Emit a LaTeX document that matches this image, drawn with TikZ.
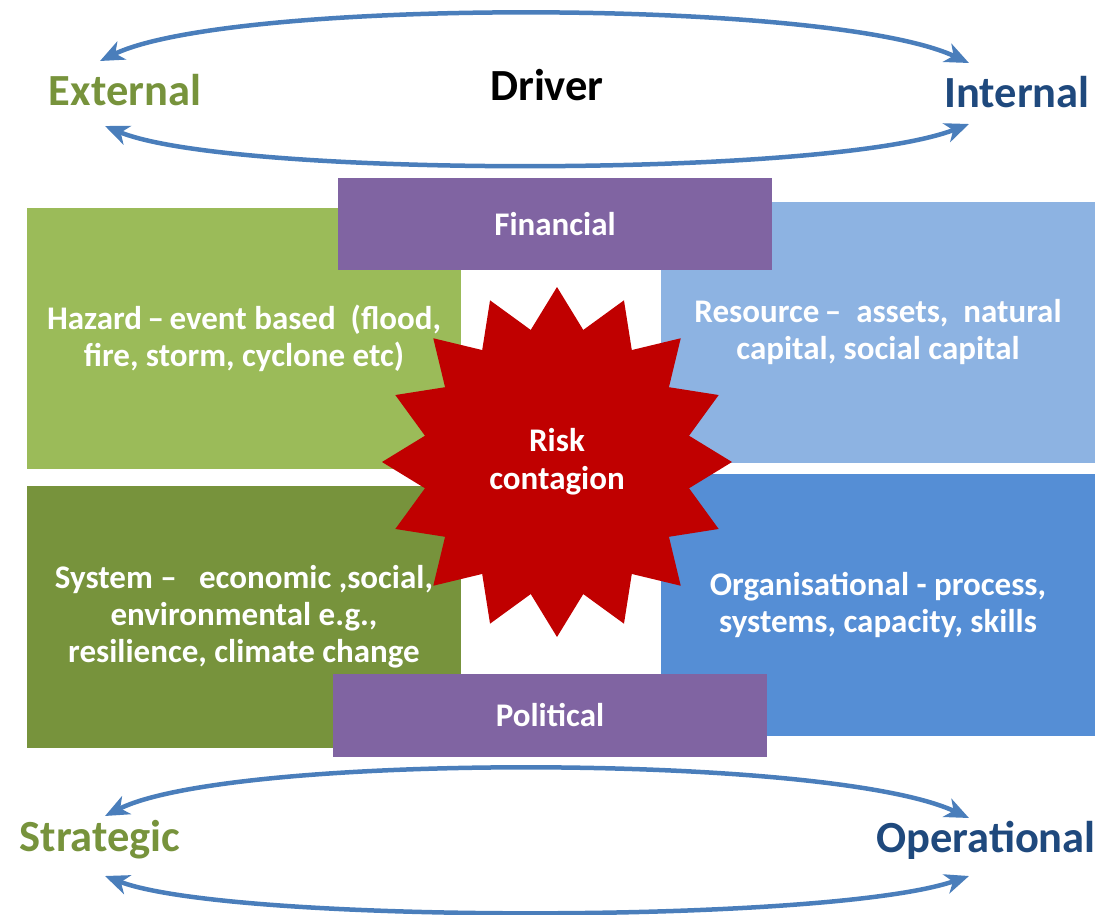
\documentclass[tikz,border=0pt]{standalone}
\usepackage{fontspec}
\setmainfont{Carlito}
\usetikzlibrary{arrows.meta, shapes.geometric}

\definecolor{hazardgreen}{HTML}{9BBB59}
\definecolor{systemgreen}{HTML}{77933C}
\definecolor{resourceblue}{HTML}{8DB3E2}
\definecolor{orgblue}{HTML}{558ED5}
\definecolor{barpurple}{HTML}{8064A2}
\definecolor{riskred}{HTML}{C00000}
\definecolor{swingblue}{HTML}{4A7EBB}
\definecolor{darkblue}{HTML}{1F497D}

\begin{document}
\begin{tikzpicture}[x=1pt, y=-1pt,
  box/.style={rectangle, minimum width=434pt, minimum height=261pt, inner sep=0pt,
    align=center, text=white, font=\fontsize{33}{37}\selectfont\bfseries},
  bar/.style={box, fill=barpurple},
  swing/.style={line width=4.5pt, draw=swingblue,
    {Stealth[length=24pt, width=20pt, inset=7pt]}-{Stealth[length=24pt, width=20pt, inset=7pt]}},
  title/.style={font=\fontsize{44.5}{50}\selectfont\bfseries},
]
  \useasboundingbox (0,0) rectangle (1100,915);
  % 四个象限
  \node[box, fill=hazardgreen] (hazard) at (244,338.5)
    {Hazard\,--\,event based\ \ (flood,\\ fire, storm, cyclone etc)};
  \node[box, fill=resourceblue] (resource) at (878,332.5)
    {Resource\,-- \ assets, \ natural\\ capital, social capital};
  \node[box, fill=systemgreen, minimum height=262pt] (system) at (244,617)
    {System -- \ \ economic ,social,\\ environmental e.g.,\\ resilience, climate change};
  \node[box, fill=orgblue, minimum height=262pt] (organisational) at (878,605)
    {Organisational - process,\\ systems, capacity, skills};
  % 紫色横条
  \node[bar, minimum height=92pt] (financial) at (555,224) {Financial};
  \node[bar, minimum height=83pt] (political) at (550,715.5) {Political};
  % 中间的星
  \node[star, star points=16, star point ratio=1.3, minimum size=350pt, inner sep=0pt,
    fill=riskred, text=white, align=center, font=\fontsize{33}{38}\selectfont\bfseries]
    (risk) at (557,462) {Risk\\ contagion};
  % 上下两组标题
  \node[title, text=systemgreen] (ext) at (125,90) {External};
  \node[title] (drv) at (547,85) {Driver};
  \node[title, text=darkblue] (int) at (1017,92) {Internal};
  \node[title, text=systemgreen] (strat) at (100,840) {Strategic};
  \node[title, text=darkblue] (oper) at (986,840) {Operational};
  % 箭头端点
  \coordinate (tl1) at (100,61);  \coordinate (tr1) at (969,63);
  \coordinate (tl2) at (105,126); \coordinate (tr2) at (969,124);
  \coordinate (bl1) at (105,816); \coordinate (br1) at (969,818);
  \coordinate (bl2) at (105,876); \coordinate (br2) at (969,876);
  % 双向弧线
  \draw[swing] (tl1) .. controls (230,-2) and (830,-2) .. (tr1);
  \draw[swing] (tl2) .. controls (230,178) and (830,178) .. (tr2);
  \draw[swing] (bl1) .. controls (230,753) and (830,753) .. (br1);
  \draw[swing] (bl2) .. controls (230,924) and (830,924) .. (br2);
\end{tikzpicture}
\end{document}
